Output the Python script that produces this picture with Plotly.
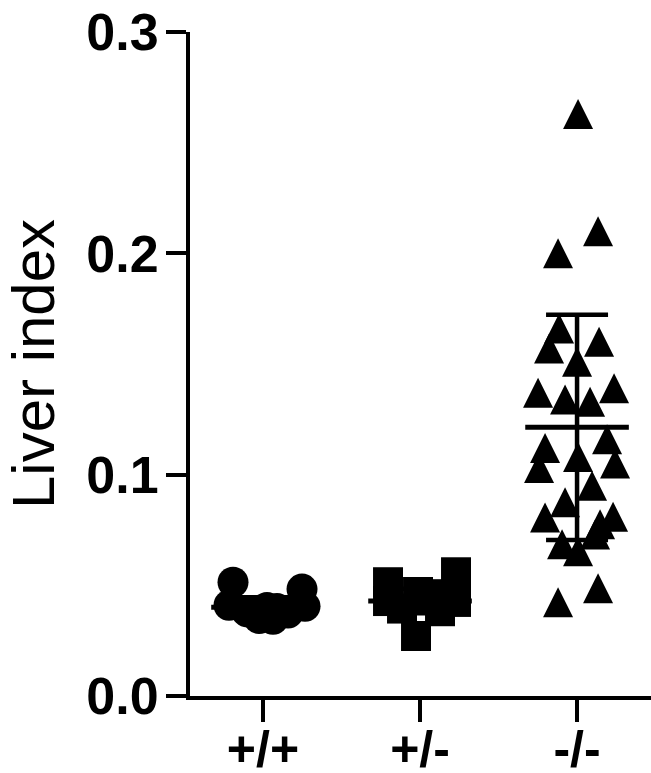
import plotly.graph_objects as go

categories = ["+/+", "+/-", "-/-"]

# Individual values
wt_vals = [0.0514, 0.0483, 0.0410, 0.0405, 0.0400, 0.0380, 0.0375, 0.0350, 0.0347, 0.0395]
het_vals = [0.0559, 0.0514, 0.0470, 0.0460, 0.0429, 0.0425, 0.0395, 0.0383, 0.0271, 0.0440]
ko_vals = [0.263, 0.210, 0.200, 0.166, 0.157, 0.160, 0.151, 0.137, 0.139, 0.134,
           0.133, 0.116, 0.112, 0.108, 0.105, 0.103, 0.095, 0.0875, 0.0807, 0.081,
           0.0776, 0.073, 0.0686, 0.0654, 0.0487, 0.0424]

# Horizontal scatter spread of each dot (pixels from the group centre)
wt_spread = [-30, 39, -34, 42, 4, -16, 25, -4, 10, 14]
het_spread = [36, -32, -2, 12, -32, 36, -18, 20, -4, 4]
ko_spread = [1, 21, -19, -18, -28, 22, 0, -39, 37, -12,
             13, 30, -32, 1, 38, -38, 15, -12, -32, 36,
             23, 18, -15, 1, 21, -19]

# Group mean and SD
group_mean = [0.0401, 0.0429, 0.1214]
group_sd = [0.0045, 0.0055, 0.0509]

PX_PER_CAT = 157.0

fig = go.Figure()

def xs(idx, spread):
    return [idx + s / PX_PER_CAT for s in spread]

fig.add_trace(go.Scatter(
    x=xs(0, wt_spread), y=wt_vals, mode="markers",
    marker=dict(symbol="circle", size=31, color="black", line=dict(width=0)),
    cliponaxis=False, showlegend=False))
fig.add_trace(go.Scatter(
    x=xs(1, het_spread), y=het_vals, mode="markers",
    marker=dict(symbol="square", size=30, color="black", line=dict(width=0)),
    cliponaxis=False, showlegend=False))
fig.add_trace(go.Scatter(
    x=xs(2, ko_spread), y=ko_vals, mode="markers",
    marker=dict(symbol="arrow-down", angle=180, standoff=15, size=30,
                color="black", line=dict(width=0)),
    cliponaxis=False, showlegend=False))

# SD error bars
fig.add_trace(go.Scatter(
    x=[0, 1, 2], y=group_mean, mode="markers",
    marker=dict(size=1, color="rgba(0,0,0,0)"),
    error_y=dict(type="data", array=group_sd, visible=True,
                 color="black", thickness=4.5, width=31),
    cliponaxis=False, showlegend=False))
# Mean lines
fig.add_trace(go.Scatter(
    x=[0, 1, 2], y=group_mean, mode="markers",
    marker=dict(symbol="line-ew", size=74, color="black",
                line=dict(width=5, color="black")),
    cliponaxis=False, showlegend=False))

font_family = "Liberation Sans, Arial, sans-serif"

fig.update_layout(
    width=651, height=773,
    margin=dict(l=190, r=0, t=32, b=77),
    paper_bgcolor="white", plot_bgcolor="white",
    xaxis=dict(
        range=[-0.465, 2.471], automargin=False,
        tickvals=[0, 1, 2], ticktext=categories,
        showgrid=False, zeroline=False,
        showline=True, linecolor="black", linewidth=4,
        ticks="outside", ticklen=22, tickwidth=4, tickcolor="black",
        ticklabelstandoff=-16,
        tickfont=dict(family=font_family, size=50, color="black", weight="bold"),
    ),
    yaxis=dict(
        range=[0, 0.3], automargin=False,
        tickvals=[0.0, 0.1, 0.2, 0.3], tickformat=".1f",
        showgrid=False, zeroline=False,
        showline=True, linecolor="black", linewidth=4,
        ticks="outside", ticklen=20, tickwidth=4, tickcolor="black",
        ticklabelstandoff=-3,
        tickfont=dict(family=font_family, size=52, color="black", weight="bold"),
        title=dict(text="Liver index",
                   font=dict(family=font_family, size=60, color="black"),
                   standoff=30),
    ),
)

fig.write_html("out.html", config={"displayModeBar": False},
               post_script="document.body.style.margin='0';document.body.style.padding='0';")
